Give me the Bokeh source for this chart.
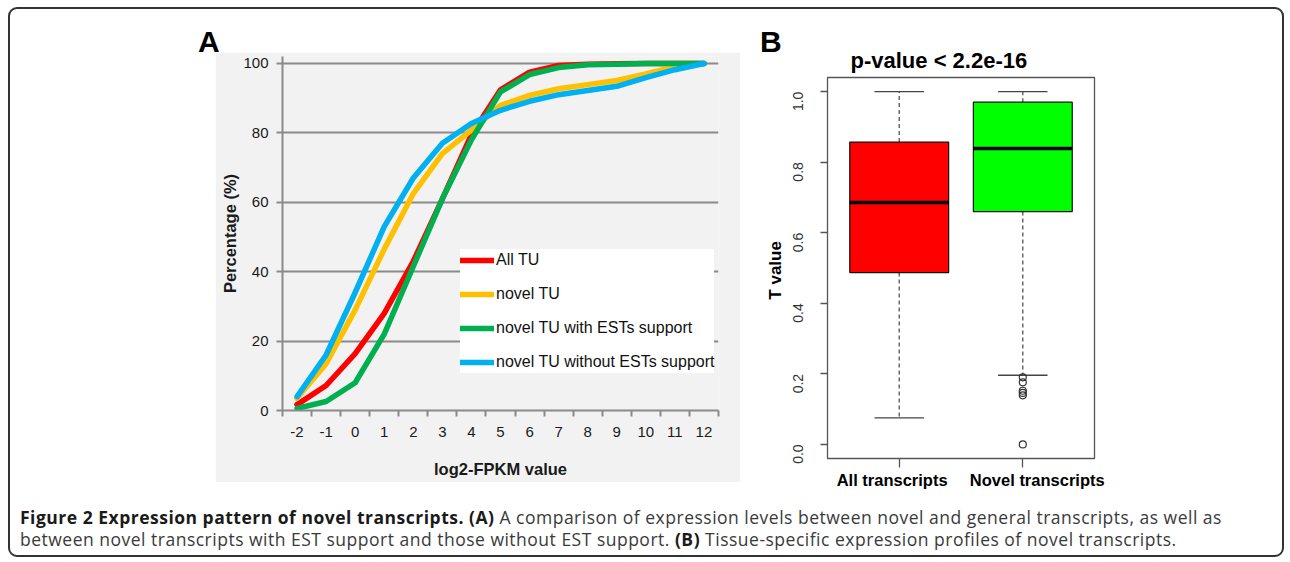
import math
from bokeh.plotting import figure
from bokeh.models import (Range1d, FixedTicker, Legend, LegendItem, Div, Spacer,
                          PrintfTickFormatter, LinearAxis)
from bokeh.layouts import row, column
from bokeh.embed import file_html
from bokeh.resources import INLINE

# ---------------- Panel A data ----------------
x_values = [-2, -1, 0, 1, 2, 3, 4, 5, 6, 7, 8, 9, 10, 11, 12]
x_labels = ["-2", "-1", "0", "1", "2", "3", "4", "5", "6", "7", "8", "9", "10", "11", "12"]
y_ticks_a = [0, 20, 40, 60, 80, 100]

series_names = ["All TU", "novel TU", "novel TU with ESTs support", "novel TU without ESTs support"]
all_tu = [1.7, 7.2, 16.4, 28, 43, 61, 79.5, 92.4, 97.5, 99.4, 99.8, 99.9, 100, 100, 100]
novel_tu = [3.5, 13.5, 29, 46.5, 62.5, 74, 80.8, 87.9, 90.8, 92.7, 93.9, 95.1, 97, 99.1, 100]
novel_tu_est = [0.6, 2.6, 8, 22, 41.5, 61, 78, 91.8, 96.8, 98.8, 99.6, 99.8, 100, 100, 100]
novel_tu_no_est = [4, 16, 34, 53, 67, 77, 82.7, 86.5, 89.1, 91, 92.2, 93.4, 95.9, 98.2, 100]
series_colors = ["#ff0000", "#ffc000", "#00b050", "#00b0f0"]

# ---------------- Panel B data ----------------
box_labels = ["All transcripts", "Novel transcripts"]
box_positions = [1, 2]
whisker_low = [0.075, 0.196]
q1 = [0.487, 0.660]
median = [0.686, 0.839]
q3 = [0.857, 0.970]
whisker_high = [1.0, 1.0]
box_colors = ["#ff0000", "#00ff00"]
outlier_group = [2, 2, 2, 2, 2, 2]
outlier_values = [0.19, 0.176, 0.152, 0.146, 0.139, 0.0]
y_ticks_b = [0.0, 0.2, 0.4, 0.6, 0.8, 1.0]

FONT = "Liberation Sans"
GRAY_BG = "#f2f2f2"
AXIS_GRAY = "#8a8a8a"

# ---------------- Panel A figure ----------------
pa = figure(width=525, height=430, x_range=Range1d(-2.5, 12.5), y_range=Range1d(0, 102),
            output_backend="svg", toolbar_location=None,
            min_border_left=67, min_border_right=22, min_border_top=4, min_border_bottom=72)
pa.border_fill_color = GRAY_BG
pa.background_fill_color = GRAY_BG
pa.outline_line_color = None
pa.xgrid.visible = False
pa.ygrid.ticker = FixedTicker(ticks=y_ticks_a)
pa.ygrid.grid_line_color = AXIS_GRAY
pa.ygrid.grid_line_width = 2

minor_positions = [v - 0.5 for v in x_values] + [x_values[-1] + 0.5]
pa.xaxis.ticker = FixedTicker(ticks=x_values, minor_ticks=minor_positions)
pa.xaxis.major_label_overrides = {v: s for v, s in zip(x_values, x_labels)}
pa.xaxis.major_tick_out = 0
pa.xaxis.major_tick_in = 0
pa.xaxis.minor_tick_out = 6
pa.xaxis.minor_tick_in = 0
pa.xaxis.minor_tick_line_color = AXIS_GRAY
pa.xaxis.minor_tick_line_width = 2
pa.xaxis.major_label_standoff = 10
pa.xaxis.axis_label = "log2-FPKM value"
pa.xaxis.axis_label_standoff = 20

pa.yaxis.ticker = FixedTicker(ticks=y_ticks_a)
pa.yaxis.major_tick_out = 6
pa.yaxis.major_tick_in = 0
pa.yaxis.major_tick_line_color = AXIS_GRAY
pa.yaxis.major_tick_line_width = 2
pa.yaxis.minor_tick_line_color = None
pa.yaxis.major_label_standoff = 8
pa.yaxis.axis_label = "Percentage (%)"
pa.yaxis.axis_label_standoff = 1

for ax in (pa.xaxis, pa.yaxis):
    ax.axis_line_color = AXIS_GRAY
    ax.axis_line_width = 2
    ax.major_label_text_font = FONT
    ax.major_label_text_font_size = "15px"
    ax.major_label_text_color = "#1a1a1a"
    ax.axis_label_text_font = FONT
    ax.axis_label_text_font_size = "16.5px"
    ax.axis_label_text_font_style = "bold"
    ax.axis_label_text_color = "#1a1a1a"

renderers = []
for vals, col in zip([all_tu, novel_tu, novel_tu_est, novel_tu_no_est], series_colors):
    r = pa.line(x_values, vals, line_color=col, line_width=5.5, line_join="round", line_cap="round")
    renderers.append(r)

legend = Legend(items=[LegendItem(label=n, renderers=[r]) for n, r in zip(series_names, renderers)],
                location=(178, 37))
legend.background_fill_color = "white"
legend.background_fill_alpha = 1
legend.border_line_color = None
legend.label_text_font = FONT
legend.label_text_font_size = "16px"
legend.label_text_color = "#111111"
legend.glyph_width = 34
legend.glyph_height = 22
legend.label_height = 22
legend.spacing = 12
legend.padding = 6
legend.margin = 0
legend.label_standoff = 2
pa.add_layout(legend)

# ---------------- Panel B figure ----------------
pb = figure(width=375, height=455, x_range=Range1d(0.42, 2.58), y_range=Range1d(-0.04, 1.04),
            output_backend="svg", toolbar_location=None,
            min_border_left=82, min_border_right=26, min_border_top=37, min_border_bottom=37)
pb.border_fill_alpha = 0
pb.background_fill_color = "white"
pb.outline_line_color = "#555555"
pb.outline_line_width = 1.3
pb.grid.visible = False

pb.title.text = "p-value < 2.2e-16"
pb.title.align = "left"
pb.title.offset = 23
pb.title.text_font = FONT
pb.title.text_font_size = "22px"
pb.title.text_font_style = "bold"
pb.title.text_color = "#000000"
pb.title.standoff = 9

# tick-mark axis (labels are drawn by a second axis just below it)
tick_axis = pb.xaxis[0]
tick_axis.ticker = FixedTicker(ticks=box_positions)
tick_axis.major_label_overrides = {p: "" for p in box_positions}
tick_axis.major_label_text_font_size = "0px"
tick_axis.major_tick_out = 9
tick_axis.major_tick_in = 0
tick_axis.minor_tick_line_color = None
tick_axis.major_label_standoff = 0
tick_axis.axis_line_color = None
tick_axis.major_tick_line_color = "#555555"
tick_axis.major_tick_line_width = 1.3

# group labels sit slightly off-centre in the original, shifted in axis units
label_shift = [-0.057, 0.117]
label_positions = [p + s for p, s in zip(box_positions, label_shift)]
label_axis = LinearAxis(ticker=FixedTicker(ticks=label_positions),
                        major_label_overrides={lp: s for lp, s in zip(label_positions, box_labels)})
label_axis.axis_line_color = None
label_axis.major_tick_line_color = None
label_axis.minor_tick_line_color = None
label_axis.major_tick_out = 0
label_axis.major_tick_in = 0
label_axis.major_label_standoff = 3
label_axis.major_label_text_font = FONT
label_axis.major_label_text_font_size = "16.5px"
label_axis.major_label_text_font_style = "bold"
label_axis.major_label_text_color = "#000000"
pb.add_layout(label_axis, "below")

yax = pb.yaxis[0]
yax.ticker = FixedTicker(ticks=y_ticks_b)
yax.formatter = PrintfTickFormatter(format="%.1f")
yax.major_label_orientation = math.pi / 2
yax.major_label_text_font = FONT
yax.major_label_text_font_size = "14px"
yax.major_label_text_color = "#333333"
yax.major_tick_out = 7
yax.major_tick_in = 0
yax.minor_tick_line_color = None
yax.major_label_standoff = 22
yax.axis_label = "T  value"
yax.axis_label_text_font = FONT
yax.axis_label_text_font_size = "17px"
yax.axis_label_text_font_style = "bold"
yax.axis_label_text_color = "#000000"
yax.axis_label_standoff = 1
yax.axis_line_color = None
yax.major_tick_line_color = "#555555"
yax.major_tick_line_width = 1.3

half_box = 0.4
half_cap = 0.2
# whiskers (dashed)
pb.segment(x0=box_positions, y0=q3, x1=box_positions, y1=whisker_high,
           line_color="#444444", line_width=1.2, line_dash="4 3")
pb.segment(x0=box_positions, y0=q1, x1=box_positions, y1=whisker_low,
           line_color="#444444", line_width=1.2, line_dash="4 3")
# caps
pb.segment(x0=[p - half_cap for p in box_positions], y0=whisker_high,
           x1=[p + half_cap for p in box_positions], y1=whisker_high,
           line_color="#444444", line_width=1.3)
pb.segment(x0=[p - half_cap for p in box_positions], y0=whisker_low,
           x1=[p + half_cap for p in box_positions], y1=whisker_low,
           line_color="#444444", line_width=1.3)
# boxes
pb.vbar(x=box_positions, width=2 * half_box, bottom=q1, top=q3,
        fill_color=box_colors, line_color="#111111", line_width=1.2)
# medians
pb.segment(x0=[p - half_box for p in box_positions], y0=median,
           x1=[p + half_box for p in box_positions], y1=median,
           line_color="#000000", line_width=3.5)
# outliers
pb.scatter(x=outlier_group, y=outlier_values, marker="circle", size=7,
           fill_color=None, line_color="#333333", line_width=1.2)

# ---------------- Page layout ----------------
letter_style = ("font-family:'Liberation Sans',Arial,sans-serif;font-weight:bold;"
                "font-size:30px;line-height:30px;color:#000;")
div_a = Div(text=f'<div style="{letter_style}padding:18px 0 0 8px;">A</div>',
            width=550, height=43, margin=0)
div_b = Div(text=f'<div style="{letter_style}padding:18px 0 0 15px;">B</div>',
            width=375, height=31, margin=0)

col_a = column(div_a, row(Spacer(width=25, height=430), pa))
col_b = column(div_b, pb)

caption_html = (
    '<div style="font-family:\'Open Sans\',sans-serif;font-size:17.5px;line-height:22px;'
    'letter-spacing:0.5px;color:#3a3a3a;padding:11px 0 0 10px;white-space:nowrap;">'
    '<b style="color:#1a1a1a;">Figure 2 Expression pattern of novel transcripts. (A)</b> '
    'A comparison of expression levels between novel and general transcripts, as well as<br>'
    'between novel transcripts with EST support and those without EST support. '
    '<b style="color:#1a1a1a;">(B)</b> Tissue-specific expression profiles of novel transcripts.'
    '</div>'
)
caption = Div(text=caption_html, width=1272, height=60, margin=0)

page = column(
    row(Spacer(width=180, height=486), col_a, Spacer(width=5, height=486), col_b,
        Spacer(width=162, height=486)),
    caption,
    margin=(7, 6, 0, 8),
    styles={"border": "2px solid #333333", "border-radius": "9px"},
)

open("out.html", "w").write(file_html(page, INLINE))
